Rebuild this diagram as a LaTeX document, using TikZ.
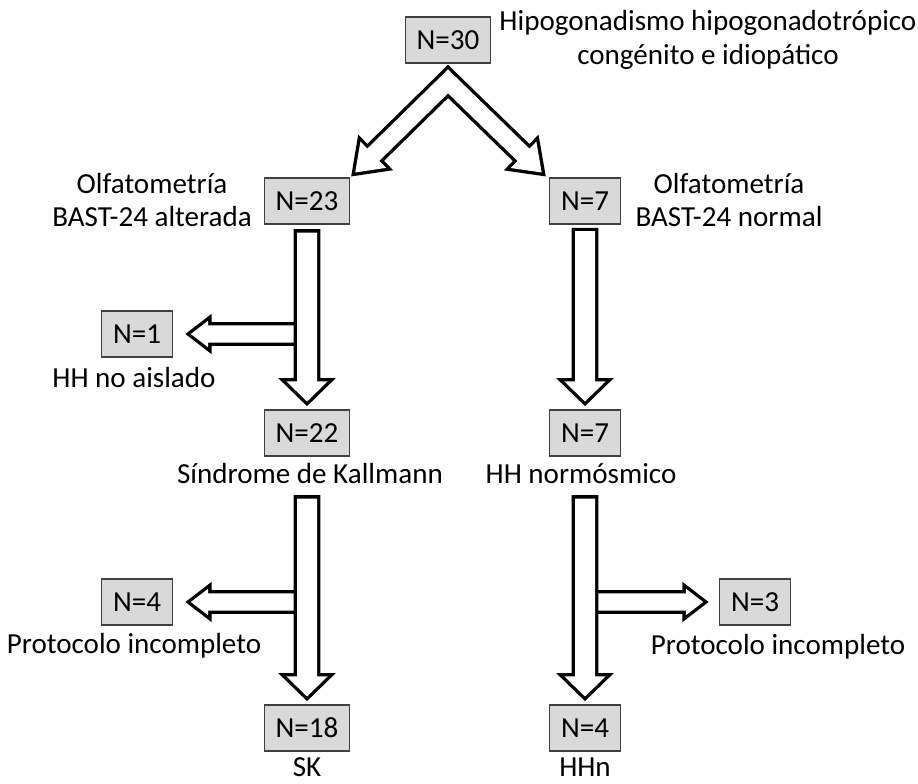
\documentclass[tikz,border=0pt]{standalone}
\usepackage{fontspec}
\setmainfont{Carlito}
\usepackage{xcolor}
\usepackage{tikz}
\usetikzlibrary{calc}
\definecolor{hhGray}{RGB}{217,217,217}
\definecolor{hhLine}{RGB}{64,64,64}
% hollow block arrow: start #1, tip #2, shaft half width #3, head half width #4, head length #5
\newcommand{\blkpath}[5]{($(#1)!#3!90:(#2)$) -- ($(#2)!#5!(#1)!#3!90:(#2)$) -- ($(#2)!#5!(#1)!#4!90:(#2)$) -- (#2) -- ($(#2)!#5!(#1)!#4!-90:(#2)$) -- ($(#2)!#5!(#1)!#3!-90:(#2)$) -- ($(#1)!#3!-90:(#2)$) -- cycle}

\begin{document}
\begin{tikzpicture}[
  x=0.75pt, y=-0.75pt,
  font=\fontsize{21.8}{25}\selectfont,
  nbox/.style={draw=hhLine, fill=hhGray, line width=0.8pt, minimum height=34.5pt, inner xsep=8.5pt},
  lbl/.style={align=center, inner sep=0pt},
  blkline/.style={draw=black, line width=5pt, line join=miter},
  blk/.style={preaction={blkline}, fill=white}
]
\useasboundingbox (0,0) rectangle (918,783);

% boxes and texts
\node[nbox] (n30) at (448,40) {N=30};
\node[lbl] (t30) at (708,40) {Hipogonadismo hipogonadotrópico\\congénito e idiopático};
\node[nbox] (n23) at (307,201) {N=23};
\node[lbl] (t23) at (152,200) {Olfatometría\\BAST-24 alterada};
\node[nbox] (n7a) at (585,201) {N=7};
\node[lbl] (t7a) at (729,200) {Olfatometría\\BAST-24 normal};
\node[nbox] (n1) at (137,334) {N=1};
\node[lbl, anchor=base] (t1) at (134,387) {HH no aislado};
\node[nbox] (n22) at (307,433) {N=22};
\node[lbl, anchor=base] (t22) at (310,483) {Síndrome de Kallmann};
\node[nbox] (n7b) at (585,433) {N=7};
\node[lbl, anchor=base] (t7b) at (581,483) {HH normósmico};
\node[nbox] (n4a) at (137,602) {N=4};
\node[lbl, anchor=base] (t4a) at (134,653) {Protocolo incompleto};
\node[nbox] (n3) at (755,602) {N=3};
\node[lbl, anchor=base] (t3) at (778,654) {Protocolo incompleto};
\node[nbox] (n18) at (307,728) {N=18};
\node[lbl, anchor=base] (t18) at (307,776) {SK};
\node[nbox] (n4b) at (585,728) {N=4};
\node[lbl, anchor=base] (t4b) at (585,776) {HHn};

% arrow ends
\coordinate (fc) at ([yshift=-13.5pt]n30.south);
\coordinate (fl0) at ([xshift=4.5pt,yshift=4.5pt]fc);
\coordinate (fr0) at ([xshift=-4.5pt,yshift=4.5pt]fc);
\coordinate (flt) at ([xshift=3.75pt,yshift=3.75pt]n23.north east);
\coordinate (frt) at ([xshift=-5.6pt,yshift=3.75pt]n7a.north west);
\coordinate (v1s) at ([yshift=-6pt]n23.south);
\coordinate (v1t) at ([yshift=6pt]n22.north);
\coordinate (v2s) at ([yshift=-5pt]n7a.south);
\coordinate (v2t) at ([yshift=6pt]n7b.north);
\coordinate (v3s) at ([yshift=-31.5pt]n22.south);
\coordinate (v3t) at ([yshift=6pt]n18.north);
\coordinate (v4s) at ([yshift=-31.5pt]n7b.south);
\coordinate (v4t) at ([yshift=6pt]n4b.north);
\coordinate (b1s) at (v1s |- n1.east);
\coordinate (b1t) at ([xshift=13.5pt]n1.east);
\coordinate (b2s) at (v3s |- n4a.east);
\coordinate (b2t) at ([xshift=13.5pt]n4a.east);
\coordinate (b3s) at (v4s |- n3.west);
\coordinate (b3t) at ([xshift=-12pt]n3.west);

% fork
\path[blkline] \blkpath{fl0}{flt}{6.4pt}{13.8pt}{19pt} \blkpath{fr0}{frt}{6.4pt}{13.8pt}{19pt};
\path[fill=white] \blkpath{fl0}{flt}{6.4pt}{13.8pt}{19pt} \blkpath{fr0}{frt}{6.4pt}{13.8pt}{19pt};

% side branches, then shafts
\path[blk] \blkpath{b1s}{b1t}{6.4pt}{10pt}{13pt};
\path[blk] \blkpath{b2s}{b2t}{6.4pt}{10pt}{13pt};
\path[blk] \blkpath{b3s}{b3t}{6.4pt}{10pt}{13pt};
\path[blk] \blkpath{v1s}{v1t}{7.5pt}{15.4pt}{15pt};
\path[blk] \blkpath{v2s}{v2t}{7.5pt}{15.4pt}{15pt};
\path[blk] \blkpath{v3s}{v3t}{7.5pt}{15.4pt}{15pt};
\path[blk] \blkpath{v4s}{v4t}{7.5pt}{15.4pt}{15pt};
\end{tikzpicture}
\end{document}
